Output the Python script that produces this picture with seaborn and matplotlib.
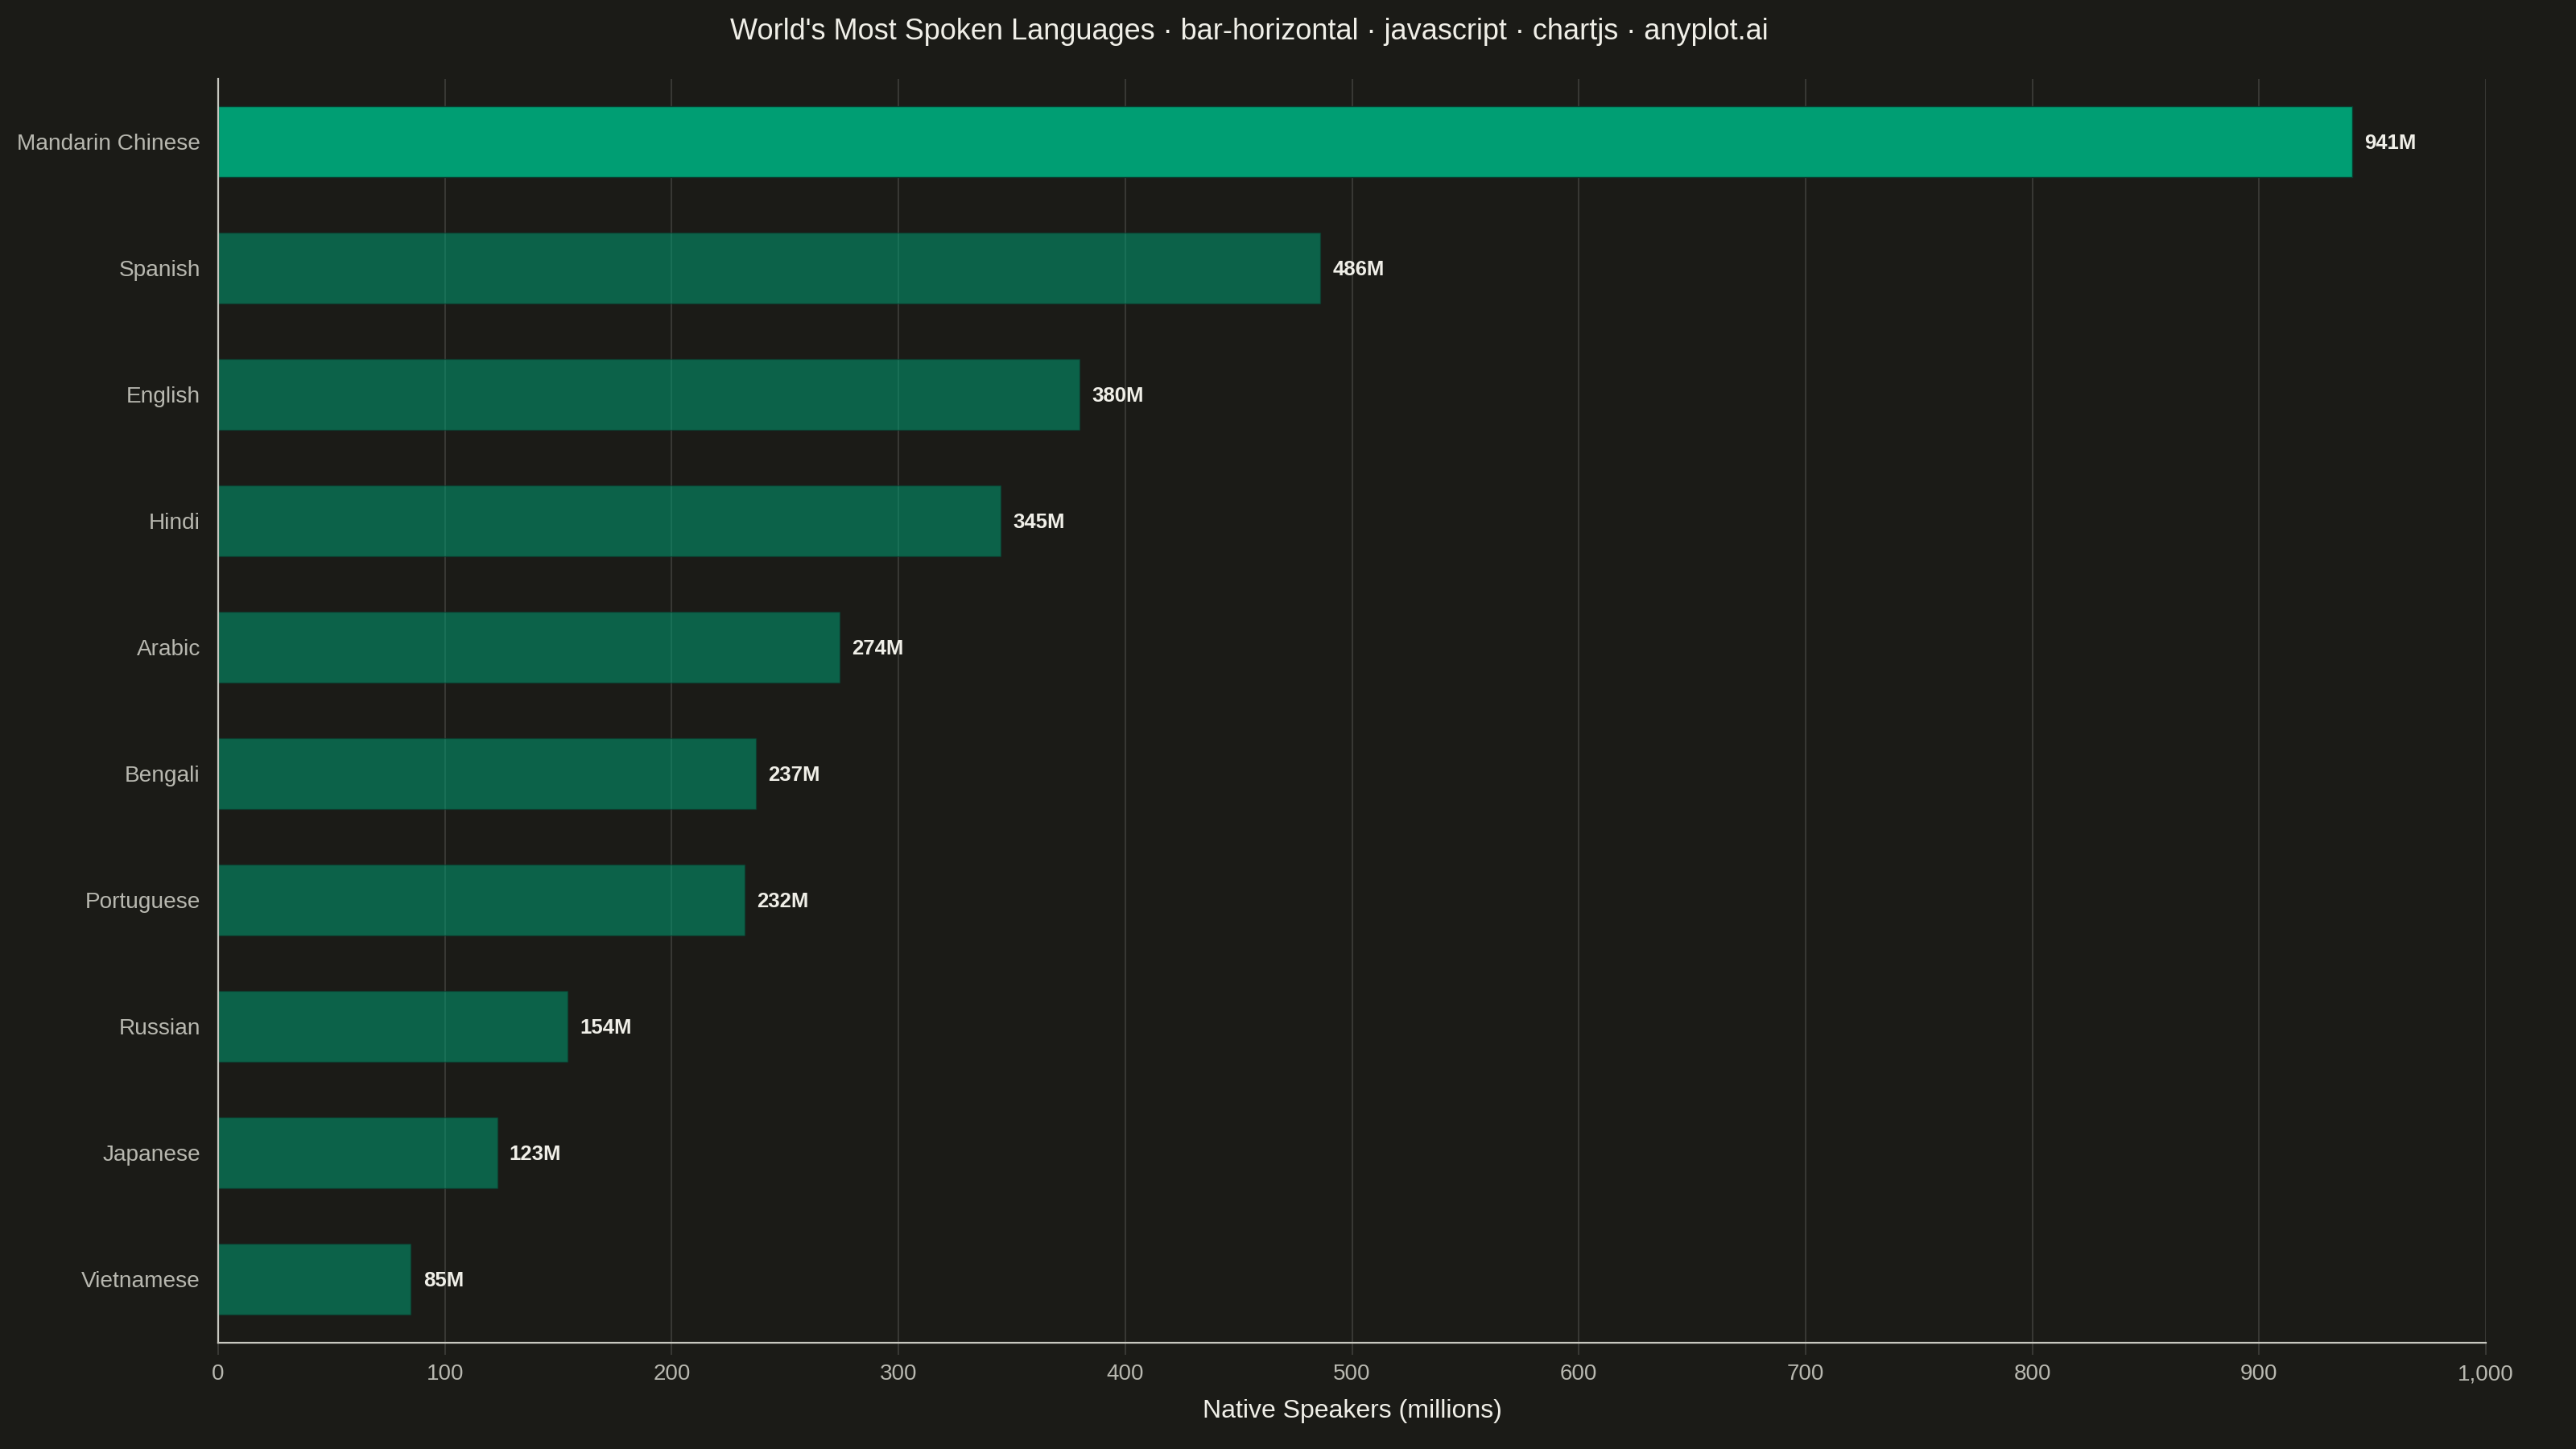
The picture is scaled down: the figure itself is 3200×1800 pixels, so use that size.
import pandas as pd
import matplotlib.pyplot as plt
import seaborn as sns
from matplotlib.ticker import FuncFormatter

languages = ["Mandarin Chinese", "Spanish", "English", "Hindi", "Arabic",
             "Bengali", "Portuguese", "Russian", "Japanese", "Vietnamese"]
speakers = [941, 486, 380, 345, 274, 237, 232, 154, 123, 85]
value_labels = ["941M", "486M", "380M", "345M", "274M",
                "237M", "232M", "154M", "123M", "85M"]
x_ticks = [0, 100, 200, 300, 400, 500, 600, 700, 800, 900, 1000]

BG = "#1b1b17"
GREEN = "#009e73"
GRID = "#3e3e3a"
TICK_TXT = "#b8b8b0"
AXIS = "#c8c8c0"
TXT = "#f0efe8"

sns.set_theme(style="dark")
plt.rcParams["font.family"] = ["Liberation Sans", "DejaVu Sans"]

df = pd.DataFrame({"language": languages, "speakers": speakers})

fig = plt.figure(figsize=(32, 18), dpi=100, facecolor=BG)
ax = fig.add_axes([0.0847, 0.0735, 0.965 - 0.0847, 0.9456 - 0.0735])
ax.set_facecolor(BG)

ax.set_axisbelow(True)
ax.grid(axis="x", color=GRID, linewidth=1.2)
ax.grid(axis="y", visible=False)

sns.barplot(data=df, x="speakers", y="language", hue="language",
            palette=[GREEN] * len(languages), legend=False, width=0.56,
            orient="h", ax=ax, saturation=1, edgecolor="#0a3d2f", linewidth=1)

# only the top language at full strength, the rest faded
for i, patch in enumerate(ax.patches):
    if i > 0:
        patch.set_alpha(0.55)

for i, (v, lab) in enumerate(zip(speakers, value_labels)):
    ax.annotate(lab, xy=(v, i), xytext=(11, -1), textcoords="offset points",
                va="center", ha="left", color=TXT, fontsize=18.5,
                fontweight="bold")

ax.set_xlim(0, 1000)
ax.set_ylim(len(languages) - 0.5, -0.5)
ax.set_xticks(x_ticks)
ax.xaxis.set_major_formatter(FuncFormatter(lambda v, p: f"{int(v):,}"))
ax.tick_params(axis="x", colors=GRID, labelcolor=TICK_TXT, labelsize=20,
               length=11, width=1.2, pad=8, bottom=True)
ax.tick_params(axis="y", labelcolor=TICK_TXT, labelsize=20.2, length=0, pad=16)

for side in ["top", "right"]:
    ax.spines[side].set_visible(False)
for side in ["left", "bottom"]:
    ax.spines[side].set_color(AXIS)
    ax.spines[side].set_linewidth(1.6)

ax.set_ylabel("")
ax.set_xlabel("Native Speakers (millions)", color=TXT, fontsize=23, labelpad=13)

fig.suptitle("World's Most Spoken Languages · bar-horizontal · javascript · chartjs · anyplot.ai",
             color=TXT, fontsize=26, x=0.485, y=0.978, va="center")

fig.savefig("out.png", dpi=100, facecolor=BG)
